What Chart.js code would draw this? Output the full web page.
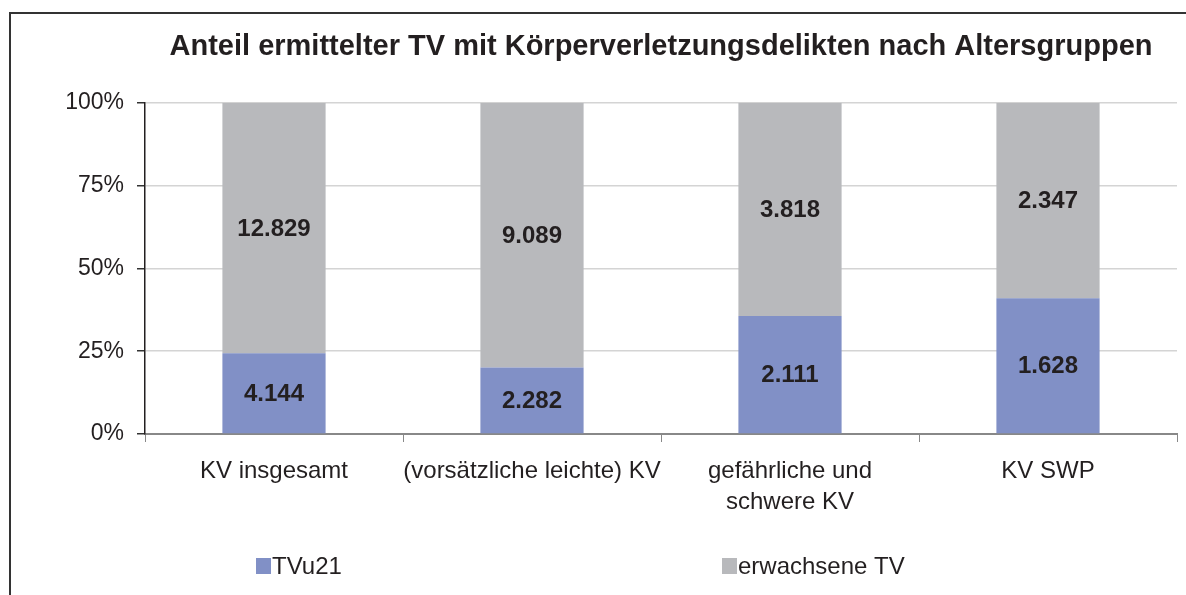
<!DOCTYPE html>
<html>
<head>
<meta charset="utf-8">
<script src="https://cdn.jsdelivr.net/npm/chart.js@4"></script>
<style>
html,body{margin:0;padding:0;background:#fff;}
#wrap{position:relative;width:1186px;height:595px;overflow:hidden;}
#frame{position:absolute;left:9px;top:12px;width:1300px;height:700px;border-left:2px solid #333;border-top:2px solid #333;}
canvas{position:absolute;left:0;top:0;}
</style>
</head>
<body>
<div id="wrap"><div id="frame"></div><canvas id="c" width="1186" height="595"></canvas></div>
<script>
const categories = ['KV insgesamt', '(vorsätzliche leichte) KV', ['gefährliche und', 'schwere KV'], 'KV SWP'];
const seriesNames = ['TVu21', 'erwachsene TV'];
const tvu21 = [4144, 2282, 2111, 1628];
const erwachsene = [12829, 9089, 3818, 2347];
const yTicks = [0, 25, 50, 75, 100];
const colors = ['#8190C6', '#B8B9BC'];

const totals = tvu21.map((v, i) => v + erwachsene[i]);
const pct = arr => arr.map((v, i) => v / totals[i] * 100);
const raw = [tvu21, erwachsene];

const fmt = n => n.toString().replace(/\B(?=(\d{3})+(?!\d))/g, '.');

const valueLabels = {
  id: 'valueLabels',
  afterDatasetsDraw(chart) {
    const ctx = chart.ctx;
    ctx.save();
    ctx.font = 'bold 24px "Liberation Sans", Arial, sans-serif';
    ctx.fillStyle = '#231f20';
    ctx.textAlign = 'center';
    ctx.textBaseline = 'middle';
    chart.data.datasets.forEach((ds, di) => {
      chart.getDatasetMeta(di).data.forEach((bar, i) => {
        const p = bar.getProps(['x', 'y', 'base'], true);
        ctx.fillText(fmt(raw[di][i]), p.x, (p.y + p.base) / 2 + 1);
      });
    });
    ctx.restore();
  }
};

const bottomLegend = {
  id: 'bottomLegend',
  afterDraw(chart) {
    const ctx = chart.ctx;
    const pos = [256, 722];
    ctx.save();
    ctx.font = '24px "Liberation Sans", Arial, sans-serif';
    ctx.textBaseline = 'middle';
    ctx.textAlign = 'left';
    chart.data.datasets.forEach((ds, i) => {
      ctx.fillStyle = ds.backgroundColor;
      ctx.fillRect(pos[i], 558, 15, 16);
      ctx.fillStyle = '#231f20';
      ctx.fillText(ds.label, pos[i] + 16, 567);
    });
    ctx.restore();
  }
};

new Chart(document.getElementById('c'), {
  type: 'bar',
  data: {
    labels: categories,
    datasets: [
      { label: seriesNames[0], data: pct(tvu21), backgroundColor: colors[0] },
      { label: seriesNames[1], data: pct(erwachsene), backgroundColor: colors[1] }
    ]
  },
  options: {
    responsive: false,
    animation: false,
    layout: { padding: { left: 0, right: 9, top: 0, bottom: 0 } },
    datasets: { bar: { categoryPercentage: 1, barPercentage: 0.4 } },
    plugins: {
      legend: { display: false },
      tooltip: { enabled: false },
      title: {
        display: true,
        text: 'Anteil ermittelter TV mit Körperverletzungsdelikten nach Altersgruppen',
        fullSize: false,
        color: '#231f20',
        font: { family: '"Liberation Sans", Arial, sans-serif', size: 29, weight: 'bold' },
        padding: { top: 30, bottom: 38 }
      }
    },
    scales: {
      x: {
        stacked: true,
        grid: { display: true, drawOnChartArea: false, drawTicks: true, tickLength: 8, color: '#888', tickColor: '#888', offset: true },
        border: { display: true, color: '#888', width: 2 },
        ticks: {
          color: '#231f20',
          padding: 14,
          maxRotation: 0,
          autoSkip: false,
          font: { family: '"Liberation Sans", Arial, sans-serif', size: 24, lineHeight: 1.3 }
        },
        afterFit(scale) { scale.height = 161; }
      },
      y: {
        stacked: true,
        min: 0,
        max: 100,
        afterBuildTicks(scale) { scale.ticks = yTicks.map(v => ({ value: v })); },
        grid: { color: '#d4d4d4', lineWidth: 1.5, drawTicks: true, tickLength: 8, tickColor: '#333' },
        border: { display: true, color: '#231f20', width: 1.5 },
        ticks: {
          color: '#231f20',
          padding: 13,
          callback: v => v + '%',
          font: { family: '"Liberation Sans", Arial, sans-serif', size: 23 }
        },
        afterFit(scale) { scale.width = 145; }
      }
    }
  },
  plugins: [valueLabels, bottomLegend]
});
</script>
</body>
</html>
